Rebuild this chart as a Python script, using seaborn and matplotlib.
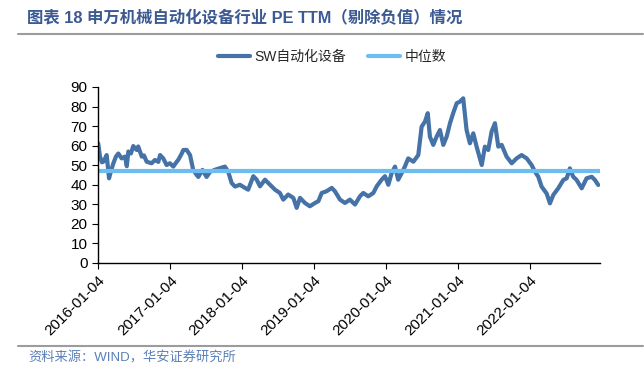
import pandas as pd
import matplotlib.pyplot as plt
import matplotlib.lines as mlines
import seaborn as sns

# PE TTM
dates = [
    "2016-01-05", "2016-01-14", "2016-01-24", "2016-01-31", "2016-02-09", "2016-02-17",
    "2016-02-29", "2016-03-10", "2016-03-22", "2016-04-04", "2016-04-16", "2016-05-03",
    "2016-05-20", "2016-05-29", "2016-06-06", "2016-06-19", "2016-07-01", "2016-07-18",
    "2016-07-26", "2016-08-13", "2016-08-24", "2016-09-07", "2016-10-02", "2016-10-19",
    "2016-11-05", "2016-11-14", "2016-11-30", "2016-12-17", "2017-01-03", "2017-01-20",
    "2017-02-06", "2017-02-14", "2017-03-04", "2017-03-12", "2017-03-29", "2017-04-15",
    "2017-05-01", "2017-05-19", "2017-05-27", "2017-06-17", "2017-07-08", "2017-07-25",
    "2017-08-20", "2017-09-14", "2017-10-09", "2017-10-26", "2017-11-12", "2017-11-29",
    "2017-12-24", "2018-01-19", "2018-02-04", "2018-03-02", "2018-03-19", "2018-04-05",
    "2018-04-30", "2018-05-26", "2018-06-20", "2018-07-15", "2018-08-01", "2018-08-26",
    "2018-09-21", "2018-10-08", "2018-10-25", "2018-11-19", "2018-12-14", "2019-01-09",
    "2019-01-26", "2019-02-12", "2019-03-09", "2019-04-04", "2019-04-20", "2019-05-16",
    "2019-06-10", "2019-07-05", "2019-07-31", "2019-08-25", "2019-09-11", "2019-10-06",
    "2019-11-01", "2019-11-18", "2019-12-13", "2019-12-30", "2020-01-16", "2020-02-02",
    "2020-02-19", "2020-03-06", "2020-03-24", "2020-04-09", "2020-04-26", "2020-05-22",
    "2020-06-16", "2020-07-03", "2020-07-20", "2020-08-03", "2020-08-14", "2020-08-31",
    "2020-09-17", "2020-10-04", "2020-10-21", "2020-11-07", "2020-11-24", "2020-12-10",
    "2020-12-28", "2021-01-13", "2021-01-30", "2021-02-16", "2021-03-05", "2021-03-22",
    "2021-04-08", "2021-05-04", "2021-05-20", "2021-06-06", "2021-06-23", "2021-07-10",
    "2021-07-27", "2021-08-13", "2021-09-07", "2021-10-03", "2021-10-28", "2021-11-22",
    "2021-12-18", "2022-01-12", "2022-01-29", "2022-02-15", "2022-03-04", "2022-03-29",
    "2022-04-15", "2022-05-02", "2022-05-27", "2022-06-22", "2022-07-09", "2022-07-25",
    "2022-08-11", "2022-08-28", "2022-09-23", "2022-10-18", "2022-11-13", "2022-11-29",
    "2022-12-16",
]
pe = [
    61.2, 54.4, 51.5, 51.8, 53.5, 55.2,
    43.3, 47.0, 51.0, 54.4, 56.0, 53.5,
    54.4, 49.5, 57.0, 56.0, 59.8, 57.8,
    59.6, 54.4, 55.0, 51.8, 51.0, 52.7,
    51.7, 55.2, 53.5, 50.1, 51.0, 49.3,
    51.7, 52.7, 56.0, 57.8, 57.8, 55.2,
    47.6, 45.0, 44.0, 47.6, 44.0, 46.6,
    47.7, 48.5, 49.3, 46.6, 40.9, 39.1,
    40.0, 38.4, 37.5, 44.4, 42.6, 39.2,
    42.6, 40.0, 37.5, 35.8, 32.4, 35.0,
    33.3, 28.2, 33.3, 30.7, 29.0, 30.7,
    31.6, 35.8, 36.7, 38.4, 36.7, 32.4,
    30.7, 32.4, 29.9, 34.1, 35.8, 34.1,
    35.8, 39.2, 42.6, 44.4, 40.0, 46.0,
    49.3, 42.6, 46.0, 49.3, 53.5, 51.8,
    55.2, 69.7, 72.3, 76.6, 64.6, 60.4,
    64.6, 68.0, 60.4, 64.6, 71.5, 76.6,
    81.7, 82.5, 84.2, 68.0, 61.2, 66.3,
    59.5, 50.1, 59.5, 57.8, 67.2, 71.5,
    59.5, 60.4, 54.4, 51.0, 53.5, 55.2,
    53.5, 50.1, 46.7, 44.1, 39.0, 35.6,
    30.5, 34.8, 38.2, 42.5, 43.3, 48.4,
    44.1, 42.5, 38.2, 43.3, 44.1, 42.5,
    39.9,
]
median_pe = 46.8

tick_labels = ["2016-01-04", "2017-01-04", "2018-01-04", "2019-01-04",
               "2020-01-04", "2021-01-04", "2022-01-04"]

df = pd.DataFrame({"date": pd.to_datetime(dates), "pe": pe})

sns.set_style("ticks")
plt.rcParams["font.family"] = ["Liberation Sans", "Noto Sans CJK SC"]

fig = plt.figure(figsize=(6.44, 3.82), dpi=100)
ax = fig.add_axes([98 / 644, 1 - 263 / 382, (600 - 98) / 644, (263 - 87) / 382])

sns.lineplot(data=df, x="date", y="pe", ax=ax, color="#4572a7", linewidth=3,
             label="SW自动化设备", legend=False)
ax.axhline(median_pe, color="#6dbdf0", linewidth=3, label="中位数")

ax.set_ylim(0, 90)
ax.set_yticks(range(0, 91, 10))
ax.set_xlim(pd.Timestamp("2016-01-04"), pd.Timestamp("2022-12-25"))
ax.set_xticks(pd.to_datetime(tick_labels))
ax.set_xticklabels(tick_labels, rotation=45, ha="right", rotation_mode="anchor")
ax.set_xlabel("")
ax.set_ylabel("")
ax.tick_params(axis="both", labelsize=11, length=4, color="black", labelcolor="black")
for s in ["top", "right"]:
    ax.spines[s].set_visible(False)
for s in ["left", "bottom"]:
    ax.spines[s].set_color("black")
    ax.spines[s].set_linewidth(1)

handles, labels = ax.get_legend_handles_labels()
fig.legend(handles, labels, loc="center", bbox_to_anchor=(332 / 644, 1 - 57 / 382),
           ncol=2, frameon=False, fontsize=10, handlelength=2.3, columnspacing=1.6,
           handletextpad=0.3)

fig.text(27 / 644, 1 - 18 / 382, "图表 18 申万机械自动化设备行业 PE TTM（剔除负值）情况",
         fontsize=11.8, fontweight="bold", color="#3b5a92", va="center")
fig.add_artist(mlines.Line2D([18 / 644, 643 / 644], [1 - 34 / 382] * 2,
                             color="#9c9c9c", linewidth=1.5, transform=fig.transFigure))
fig.add_artist(mlines.Line2D([18 / 644, 643 / 644], [1 - 346 / 382] * 2,
                             color="#9c9c9c", linewidth=1.5, transform=fig.transFigure))
fig.text(28 / 644, 1 - 358 / 382, "资料来源：WIND，华安证券研究所",
         fontsize=9.5, color="#5a80b8", va="center")

fig.savefig("out.png", dpi=100)
